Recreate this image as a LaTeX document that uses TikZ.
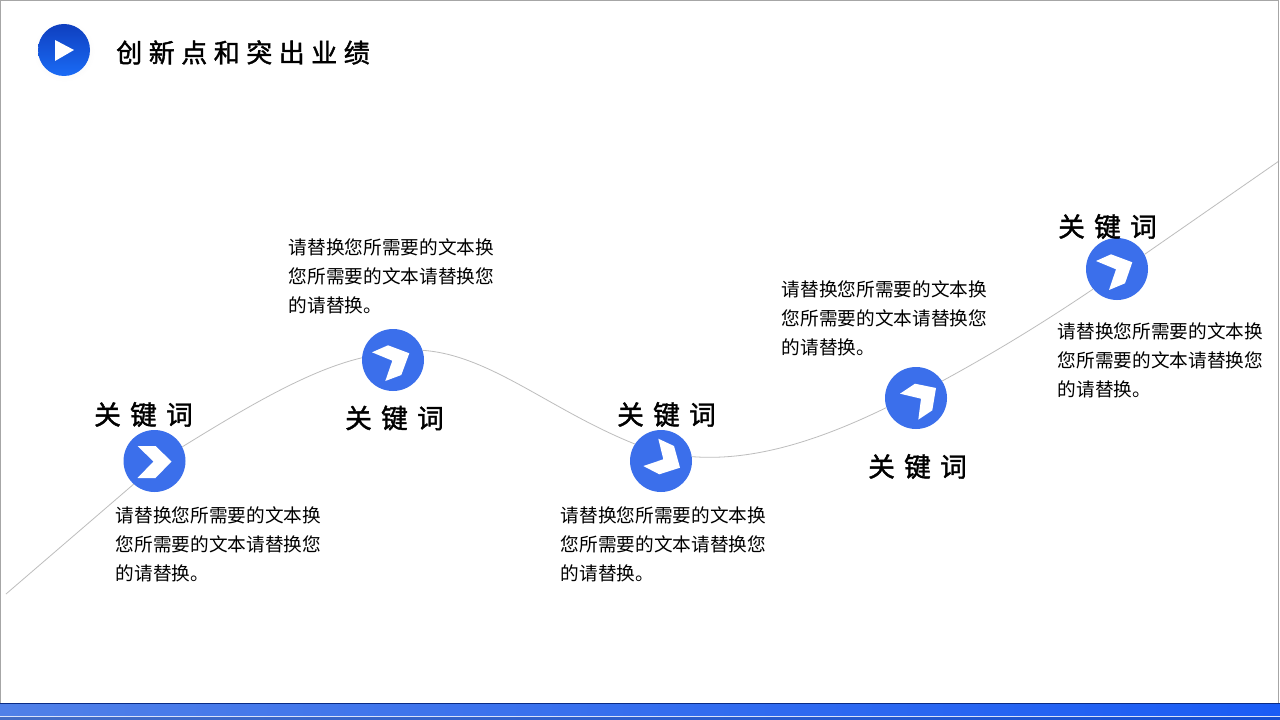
\documentclass[tikz,border=0pt]{standalone}
\usepackage{fontspec}
\usetikzlibrary{positioning}
\newfontfamily\cjk{Noto Sans CJK SC}
\newfontfamily\cjkword[LetterSpace=35,FakeBold=1.5]{Noto Sans CJK SC}
\newfontfamily\cjktitle[LetterSpace=25,FakeBold=1.5]{Noto Sans CJK SC}
\definecolor{markblue}{HTML}{3B6FEB}
\definecolor{curvegray}{HTML}{BDBDBD}
\definecolor{icontop}{HTML}{0F3FBF}
\definecolor{iconbottom}{HTML}{1A6BF5}
\definecolor{bandleft}{HTML}{5080E8}
\definecolor{bandright}{HTML}{1A5CF5}
\tikzset{
  markdot/.style={circle,fill=markblue,minimum size=46.5pt,inner sep=0pt},
  wavy/.style={draw=curvegray,line width=0.6pt},
  keyword/.style={font=\cjkword\fontsize{20pt}{24pt}\selectfont,inner sep=0pt},
  blurb/.style={font=\cjk\fontsize{14pt}{21.75pt}\selectfont,align=left,anchor=west,inner sep=0pt}
}
\begin{document}
\begin{tikzpicture}[x=0.75pt,y=-0.75pt]
\useasboundingbox (0,0) rectangle (1280,720);
\fill[white] (0,0) rectangle (1280,720);

\coordinate (curvestart) at (6,594);
\coordinate (curveend) at (1279,161);

\node[markdot] (c1) at (154.5,461) {};
\node[markdot] (c2) at (393,360) {};
\node[markdot] (c3) at (661,461) {};
\node[markdot] (c4) at (916,398) {};
\node[markdot] (c5) at (1117,269) {};

\draw[wavy] (curvestart) -- (c1.228);
\draw[wavy] (c1.27) .. controls (250,405) and (310,370) .. (c2.176);
\draw[wavy] (c2.18) .. controls (490,355) and (550,410) .. (c3.147);
\draw[wavy] (c3.8) .. controls (760,462) and (830,435) .. (c4.198);
\draw[wavy] (c4.33) .. controls (990,355) and (1040,325) .. (c5.220);
\draw[wavy] (c5.28) -- (curveend);

% white arrows in the dots
\fill[white,shift={(c1)}] (-17,-15) -- (1,-15) -- (17,0.5) -- (1,17) -- (-17,17) -- (-1,0.5) -- cycle;
\fill[white,shift={(c2)}] (-21,-7.7) -- (-5,-14.7) -- (16.3,-6.7) -- (8.3,15) -- (-7.7,21) -- (-0.7,0.7) -- cycle;
\fill[white,shift={(c3)}] (-2.7,-22.3) -- (13,-15) -- (19,6.7) -- (-1.7,13.3) -- (-17.7,5) -- (2.3,-1.7) -- cycle;
\fill[white,shift={(c4)}] (-16,-4.3) -- (-1,-14.3) -- (20,-10) -- (16.3,12.3) -- (2.3,21.7) -- (5,0.7) -- cycle;
\fill[white,shift={(c5)}] (-21,-8) -- (-6,-14.7) -- (15.3,-6.7) -- (8,14.3) -- (-8,21) -- (-1,0.3) -- cycle;

\node[keyword] (k1) at (143.5,414.5) {关键词};
\node[keyword] (k2) at (394.5,418) {关键词};
\node[keyword] (k3) at (666.5,414.5) {关键词};
\node[keyword] (k4) at (917.5,466.5) {关键词};
\node[keyword] (k5) at (1107.5,226.5) {关键词};

\node[blurb] (t1) at (115.5,544) {请替换您所需要的文本换\\您所需要的文本请替换您\\的请替换。};
\node[blurb] (t2) at (288.5,276.5) {请替换您所需要的文本换\\您所需要的文本请替换您\\的请替换。};
\node[blurb] (t3) at (560.5,544) {请替换您所需要的文本换\\您所需要的文本请替换您\\的请替换。};
\node[blurb] (t4) at (781.5,318) {请替换您所需要的文本换\\您所需要的文本请替换您\\的请替换。};
\node[blurb] (t5) at (1057.5,360) {请替换您所需要的文本换\\您所需要的文本请替换您\\的请替换。};

% title
\shade[inner color=gray!14,outer color=white] (64,51) circle (31);
\shade[top color=icontop,bottom color=iconbottom] (64,50) circle (26);
\fill[white] (55,40) -- (74,50) -- (55,61) -- cycle;
\node[font=\cjktitle\fontsize{19.5pt}{24pt}\selectfont,anchor=west,inner sep=0pt] (title) at (116,52.5) {创新点和突出业绩};

% bottom band
\fill[icontop!70!black] (0,703) rectangle (1280,704);
\shade[left color=bandleft,right color=bandright] (0,704) rectangle (1280,716);
\fill[white!80!markblue] (0,716) rectangle (1280,717);
\shade[left color=bandleft!85!black,right color=bandright!85!black] (0,717) rectangle (1280,720);

% frame
\draw[gray!70,line width=0.75pt] (0.5,703) -- (0.5,0.5) -- (1278.5,0.5) -- (1278.5,703);
\end{tikzpicture}
\end{document}
